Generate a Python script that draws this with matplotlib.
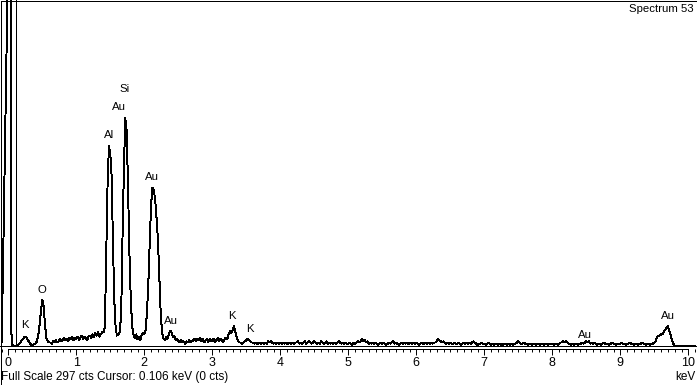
import numpy as np
import matplotlib
matplotlib.use("Agg")
import matplotlib.pyplot as plt
from matplotlib.patches import Rectangle
from matplotlib.ticker import MultipleLocator

plt.rcParams['font.family'] = ['Liberation Sans', 'DejaVu Sans']

# ---------------- data (counts per 0.02 keV channel) ----------------
energy_start, energy_step = -0.10, 0.02

counts_neg = [2, 60, 130, 200, 275]  # -0.10 .. -0.02 keV

counts_0 = [1500, 1500, 15, 1, 0, 0, 0, 1, 2, 3,
            5, 6, 8, 8, 6, 4, 2, 1, 1, 2,
            2, 4, 9, 18, 30, 40, 34, 18, 7, 4,
            3, 3, 2, 4, 3, 5, 3, 4, 6, 4,
            5, 7, 5, 6, 4, 7, 6, 8, 5, 7]
counts_1 = [6, 8, 5, 7, 9, 6, 8, 7, 5, 8,
            9, 7, 10, 8, 11, 9, 12, 8, 10, 12,
            12, 16, 80, 140, 172, 165, 146, 85, 38, 14,
            9, 10, 12, 28, 95, 152, 196, 186, 140, 82,
            42, 18, 10, 7, 10, 6, 8, 5, 9, 11]
counts_2 = [10, 14, 30, 55, 90, 122, 136, 134, 126, 110,
            92, 60, 30, 12, 7, 5, 8, 6, 10, 13,
            12, 8, 9, 5, 6, 4, 3, 5, 3, 4,
            2, 4, 3, 5, 3, 4, 5, 6, 4, 6,
            5, 7, 4, 6, 3, 5, 6, 3, 6, 4]
counts_3 = [5, 6, 3, 5, 7, 4, 6, 5, 3, 6,
            7, 6, 10, 13, 11, 14, 17, 12, 7, 4,
            3, 3, 2, 3, 4, 5, 6, 5, 4, 3,
            3, 2, 3, 2, 2, 3, 2, 3, 2, 3,
            2, 4, 3, 4, 3, 2, 3, 2, 3, 2]
counts_4 = [3, 2, 3, 2, 3, 2, 2, 3, 2, 3,
            2, 3, 3, 4, 2, 3, 2, 3, 4, 2,
            3, 4, 3, 2, 3, 4, 3, 2, 3, 2,
            4, 3, 2, 3, 4, 2, 3, 2, 3, 2,
            3, 2, 3, 4, 3, 2, 3, 2, 3, 2]
counts_5 = [2, 3, 2, 1, 3, 2, 3, 4, 3, 4,
            6, 4, 5, 3, 4, 2, 3, 2, 3, 2,
            3, 2, 1, 2, 3, 2, 3, 2, 1, 2,
            3, 2, 3, 4, 2, 3, 2, 1, 2, 3,
            2, 3, 2, 3, 2, 2, 3, 2, 3, 2]
counts_6 = [3, 2, 1, 2, 3, 2, 2, 3, 2, 3,
            2, 3, 2, 3, 3, 4, 6, 5, 4, 3,
            4, 3, 2, 3, 2, 3, 2, 2, 3, 2,
            2, 3, 2, 1, 2, 3, 2, 3, 2, 3,
            2, 3, 4, 3, 2, 1, 2, 2, 3, 2]
counts_7 = [2, 1, 2, 3, 2, 1, 2, 1, 2, 2,
            1, 2, 1, 2, 1, 2, 2, 1, 2, 1,
            2, 1, 2, 2, 3, 4, 3, 2, 2, 3,
            2, 2, 1, 2, 2, 1, 2, 2, 1, 2,
            2, 1, 2, 2, 1, 2, 2, 1, 2, 2]
counts_8 = [2, 1, 2, 2, 1, 2, 3, 3, 4, 3,
            4, 3, 2, 2, 1, 2, 1, 2, 2, 1,
            2, 2, 3, 2, 3, 4, 3, 4, 2, 3,
            2, 3, 2, 1, 2, 2, 1, 2, 3, 2,
            2, 2, 1, 2, 3, 2, 2, 1, 2, 2]
counts_9 = [2, 3, 2, 2, 1, 2, 2, 3, 2, 2,
            1, 2, 2, 1, 2, 2, 3, 2, 2, 1,
            2, 2, 1, 2, 2, 3, 4, 8, 9, 9,
            10, 10, 12, 14, 16, 17, 13, 10, 5, 2,
            0, 0, 0, 0, 0, 0, 0, 0, 0, 0]
counts_10 = [0, 0, 0, 0, 0, 0]  # 10.00 .. 10.10 keV

peak_labels = ["Si", "Au", "Al", "Au", "O", "K", "Au", "K", "K", "Au", "Au"]
label_keV = [1.716, 1.635, 1.481, 2.113, 0.500, 0.238, 2.393, 3.285, 3.547, 8.481, 9.694]
label_cts = [221, 205.5, 181.5, 145.5, 47.8, 18.1, 21.5, 25.8, 15.0, 9.5, 26.1]

major_ticks = [0, 1, 2, 3, 4, 5, 6, 7, 8, 9, 10]
full_scale = 297
cursor_keV = 0.106
info_text = "Full Scale 297 cts Cursor: 0.106 keV (0 cts)"
title_text = "Spectrum 53"

counts = np.array(counts_neg + counts_0 + counts_1 + counts_2 + counts_3 + counts_4 +
                  counts_5 + counts_6 + counts_7 + counts_8 + counts_9 + counts_10, float)
energy = energy_start + energy_step * np.arange(len(counts))

# ---------------- figure ----------------
W, H = 697, 385
fig = plt.figure(figsize=(W / 100, H / 100), dpi=100)
fig.patch.set_facecolor('white')

px_per_keV = 68.0
x0_px = 8.3
xlim = (-x0_px / px_per_keV, (W - x0_px) / px_per_keV)
LW = 0.7

base_px = 346  # y pixel (from top) of zero counts
ax = fig.add_axes([0, (H - base_px) / H, 1, base_px / H])
ax.set_xlim(*xlim)
ax.set_ylim(0, full_scale * base_px / (base_px - 1))
ax.plot(energy, counts, color='black', lw=LW, antialiased=False)
ax.axvline(cursor_keV, color='black', lw=LW, antialiased=False)
for s in ['top', 'left', 'right']:
    ax.spines[s].set_visible(False)
ax.spines['bottom'].set_linewidth(LW)
ax.spines['bottom'].set_antialiased(False)
ax.set_xticks([])
ax.set_yticks([])
ax.patch.set_alpha(0)

for lab, xk, yc in zip(peak_labels, label_keV, label_cts):
    ax.text(xk, yc, lab, ha='center', va='center', fontsize=8.2, color='black')

# ruler axis
ruler_px = 349
ax2 = fig.add_axes([0, (H - ruler_px) / H, 1, 1e-5])
ax2.set_xlim(*xlim)
ax2.set_ylim(0, 1)
ax2.patch.set_alpha(0)
for s in ['top', 'left', 'right']:
    ax2.spines[s].set_visible(False)
ax2.spines['bottom'].set_bounds(0, 10)
ax2.spines['bottom'].set_linewidth(LW)
ax2.spines['bottom'].set_antialiased(False)
ax2.set_yticks([])
ax2.set_xticks(major_ticks)
ax2.set_xticklabels([str(t) for t in major_ticks])
ax2.xaxis.set_minor_locator(MultipleLocator(0.1))
ax2.tick_params(axis='x', which='major', direction='out', length=4.3, width=LW,
                pad=1.2, labelsize=9)
ax2.tick_params(axis='x', which='minor', direction='out', length=2.2, width=LW)

fig.text(1 / W, 1 - 377 / H, info_text, ha='left', va='center', fontsize=8.5)
fig.text(695 / W, 1 - 377 / H, "keV", ha='right', va='center', fontsize=8.5)
fig.text(694 / W, 1 - 9 / H, title_text, ha='right', va='center', fontsize=8.2)

fig.add_artist(Rectangle((0.5 / W, 0.5 / H), (W - 1) / W, (H - 1) / H,
                         transform=fig.transFigure, fill=False, edgecolor='black',
                         lw=LW, antialiased=False))

fig.savefig("out.png", dpi=100, facecolor='white')
